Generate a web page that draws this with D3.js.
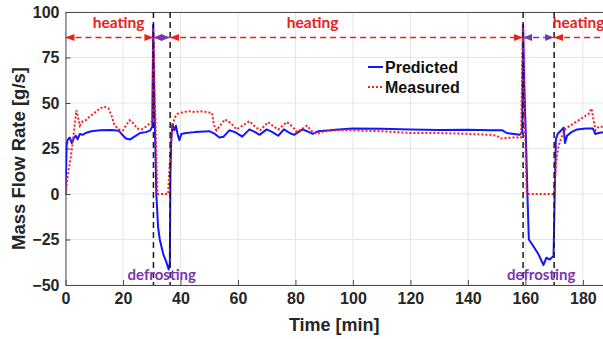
<!DOCTYPE html>
<html><head><meta charset="utf-8">
<script src="https://cdn.jsdelivr.net/npm/d3@7"></script>
<style>body{margin:0;background:#fff}svg{display:block}</style>
</head><body>
<svg id="c" width="603" height="339"></svg>
<script>
// ---- data ----
const xTicks = [0,20,40,60,80,100,120,140,160,180];
const yTicks = [-50,-25,0,25,50,75,100];
const predT = [0,0.4,0.8,1.5,2.2,3,3.6,4.2,5,6,7,9,12,16,18.5,19.5,21,22.5,24,26,28,29.5,30.2,30.5,30.8,31.2,31.6,32.2,32.8,34,35,35.9,36.3,36.5,36.8,37.2,37.8,38.4,39,39.6,40.3,42,45,50,52,53.5,55,57,59,61.5,64,66,67.5,70,72,74,76,78,79.5,82.5,84,86,88,92,95,100,110,120,130,140,148,152,153.5,156,158,158.9,159.2,159.6,160.2,160.7,161.2,162.5,164.5,166.3,167.3,168.5,169.8,170.2,170.6,171.2,172.5,173.3,173.8,174.5,176,178,181,183.5,184.3,185.5,187];
const predV = [0,27,30,31,28,31,32,30,33,32.5,33.5,34.5,35,35.2,34.8,33,30.5,30,31.5,33.5,34,35,37,93,60,30,0,-18,-25,-33,-37,-41.5,-38,10,30,38.5,35,37.5,33,29.5,33,33.5,34,34.5,33,31,31.5,35,34,31.5,35.5,34,32.5,35.5,34,32,35.5,33.5,32.5,35.5,34.5,33,34.5,35,35.5,36,35.8,35.5,35.2,35.3,35,35,33.5,33,32.5,34,93,60,30,0,-25,-28,-33,-39,-35,-36,-34,0,30,33,35,36.5,28,32,34,35.5,36,36,33,33.5,34];
const measT = [0,0.6,1.2,1.8,2.5,3.2,3.8,4.4,5,6,7,8,10,12,13.5,15,16,17,18.5,20,21,22.3,23.5,25,26.5,28,29.5,30.2,30.6,31,31.4,31.7,32,35.7,36.2,36.7,37.3,38,39,41,43,45,47,49,51,51.6,52.5,54,55.5,57.5,59.5,62,64,66,67.7,70.5,72.5,74,77,79,80.5,82,84,86,87.5,90,95,100,110,120,130,140,148,150,151.5,155,158.5,159.1,159.5,160,160.5,170,170.4,170.9,171.5,172.3,173,174,176,178,180,182,183,183.8,184.4,185.5,187];
const measV = [0,8,14,20,28,38,46,42,37.5,40,40.5,42,44.5,47,48,47,43,38,35.5,35,37.5,40.5,39,36,35.5,37,39,40,91,60,33,15,0,0,15,28,38,42,44,45,45.5,45,45.5,45,44.5,38,35,38,41,39,35.5,38,40,37,35,39.5,37,35.5,39.5,37,34,35.5,37.5,34,33,34.5,35,35,34.5,33.5,33.5,33,32.5,32,30.5,31,31,92,60,29,0,0,10,20,26,30,33,36,38,40,42,44,47,40,35,37,37];
const defrostLines = [30.6,36.4,159.2,170];
const phaseStart = [0,30.6,36.4,159.2,170];
const phaseEnd   = [30.6,36.4,159.2,170,187];
const phaseKind  = ["heating","defrosting","heating","defrosting","heating"];
const heatLabelX = [18.5,86,178.5];
const defrostLabelX = [33.5,165.5];
const arrowLevel = 86;
const seriesNames = ["Predicted","Measured"];

// ---- layout ----
const svg = d3.select("#c");
const L=65.5, R=603, T=12, B=285;
const x = d3.scaleLinear().domain([0,187]).range([L,R]);
const y = d3.scaleLinear().domain([-50,100]).range([B,T]);

const defs = svg.append("defs");
function marker(id,color){
  defs.append("marker").attr("id",id).attr("viewBox","0 0 10 10").attr("refX",10).attr("refY",5)
   .attr("markerWidth",6).attr("markerHeight",6).attr("orient","auto-start-reverse")
   .append("path").attr("d","M0,1L10,5L0,9Z").attr("fill",color);
}
marker("ar","#e8211b"); marker("ap","#7a35b0");
defs.append("clipPath").attr("id","clip").append("rect").attr("x",L).attr("y",T).attr("width",R-L).attr("height",B-T);

// grid
svg.append("g").selectAll("line").data(xTicks).join("line")
  .attr("x1",d=>x(d)).attr("x2",d=>x(d)).attr("y1",T).attr("y2",B).attr("stroke","#e6e6e6").attr("stroke-width",1);
svg.append("g").selectAll("line").data(yTicks).join("line")
  .attr("x1",L).attr("x2",R).attr("y1",d=>y(d)).attr("y2",d=>y(d)).attr("stroke","#e6e6e6").attr("stroke-width",1);

// axes
const xAxis = svg.append("g").attr("transform",`translate(0,${B})`)
  .call(d3.axisBottom(x).tickValues(xTicks).tickSizeInner(-5).tickSizeOuter(0).tickPadding(8));
const yAxis = svg.append("g").attr("transform",`translate(${L},0)`)
  .call(d3.axisLeft(y).tickValues(yTicks).tickSizeInner(-5).tickSizeOuter(0).tickPadding(6));
[xAxis,yAxis].forEach(g=>{
  g.select(".domain").attr("stroke","#4d4d4d");
  g.selectAll(".tick line").attr("stroke","#4d4d4d");
  g.selectAll("text").attr("fill","#262626").style("font-family","'Liberation Sans',Arial,sans-serif")
   .style("font-weight","bold").style("font-size","16px");
});
svg.append("line").attr("x1",L).attr("x2",R).attr("y1",T+0.5).attr("y2",T+0.5).attr("stroke","#4d4d4d");

// lines
const lineGen = d3.line().x(d=>x(d[0])).y(d=>y(d[1]));
const plot = svg.append("g").attr("clip-path","url(#clip)");
plot.append("path").datum(predT.map((t,i)=>[t,predV[i]])).attr("d",lineGen)
  .attr("fill","none").attr("stroke","#1414ff").attr("stroke-width",2).attr("stroke-linejoin","round");
plot.append("path").datum(measT.map((t,i)=>[t,measV[i]])).attr("d",lineGen)
  .attr("fill","none").attr("stroke","#ff1a1a").attr("stroke-width",2).attr("stroke-dasharray","2,2");

// defrost vertical lines
svg.append("g").selectAll("line").data(defrostLines).join("line")
  .attr("x1",d=>x(d)).attr("x2",d=>x(d)).attr("y1",T).attr("y2",B)
  .attr("stroke","#1a1a1a").attr("stroke-width",1.5).attr("stroke-dasharray","6,4");

// phase arrows
svg.append("g").selectAll("line").data(phaseKind).join("line")
  .attr("x1",(d,i)=>x(phaseStart[i])).attr("x2",(d,i)=>Math.min(x(phaseEnd[i]),R+20))
  .attr("y1",y(arrowLevel)).attr("y2",y(arrowLevel))
  .attr("stroke",d=>d==="heating"?"#e8211b":"#7a35b0").attr("stroke-width",1.5)
  .attr("stroke-dasharray","6,4")
  .attr("marker-start",d=>d==="heating"?"url(#ar)":"url(#ap)")
  .attr("marker-end",(d,i)=>i===phaseKind.length-1?null:(d==="heating"?"url(#ar)":"url(#ap)"));

// labels
svg.append("g").selectAll("text").data(heatLabelX).join("text")
  .attr("x",d=>x(d)).attr("y",y(arrowLevel)-9).attr("text-anchor","middle")
  .attr("fill","#e8211b").style("font-family","Lato,'Open Sans',sans-serif").style("font-weight","bold")
  .style("font-size","15.5px").text("heating");
svg.append("g").selectAll("text").data(defrostLabelX).join("text")
  .attr("x",d=>x(d)).attr("y",B-5).attr("text-anchor","middle")
  .attr("fill","#7a35b0").style("font-family","Lato,'Open Sans',sans-serif").style("font-weight","bold")
  .style("font-size","15px").text("defrosting");

// legend
const lg = svg.append("g").attr("transform","translate(368,67)");
lg.append("line").attr("x1",0).attr("x2",15).attr("y1",0).attr("y2",0).attr("stroke","#1414ff").attr("stroke-width",2);
lg.append("line").attr("x1",0).attr("x2",15).attr("y1",20).attr("y2",20).attr("stroke","#ff1a1a").attr("stroke-width",2).attr("stroke-dasharray","2,2");
lg.selectAll("text").data(seriesNames).join("text").attr("x",17).attr("y",(d,i)=>i*20+5.5)
  .attr("fill","#111").style("font-family","'Liberation Sans',Arial,sans-serif").style("font-weight","bold")
  .style("font-size","16px").text(d=>d);

// axis titles
svg.append("text").attr("x",(L+R)/2).attr("y",331).attr("text-anchor","middle")
  .attr("fill","#262626").style("font-family","'Liberation Sans',Arial,sans-serif").style("font-weight","bold")
  .style("font-size","18px").text("Time [min]");
svg.append("text").attr("transform",`translate(25,${(T+B)/2+10}) rotate(-90)`).attr("text-anchor","middle")
  .attr("fill","#262626").style("font-family","'Liberation Sans',Arial,sans-serif").style("font-weight","bold")
  .style("font-size","18.5px").text("Mass Flow Rate [g/s]");
</script>
</body></html>
